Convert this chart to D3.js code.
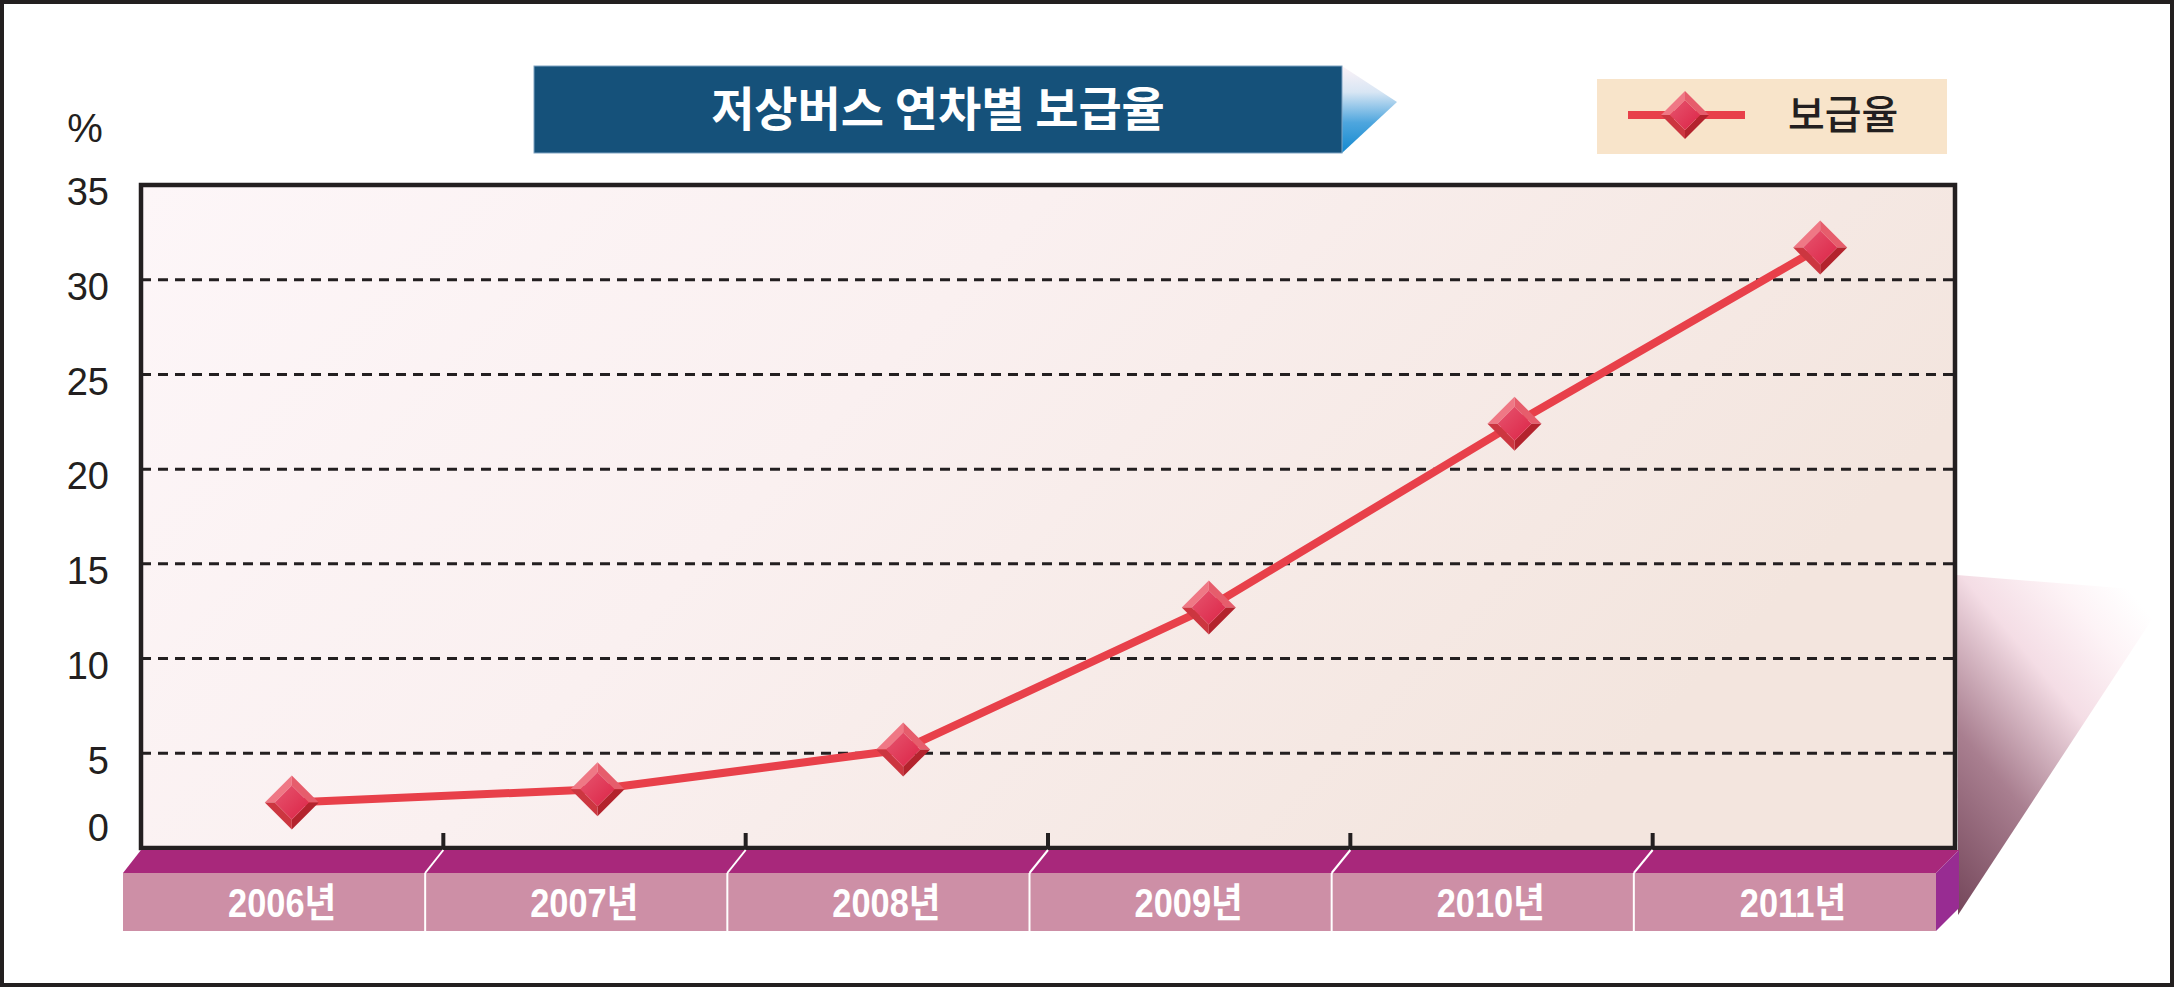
<!DOCTYPE html>
<html>
<head>
<meta charset="utf-8">
<script src="https://cdn.jsdelivr.net/npm/d3@7"></script>
<style>
  html, body { margin: 0; padding: 0; background: #fff; }
  svg { display: block; }
</style>
</head>
<body>
<svg id="chart" width="2174" height="987"></svg>
<script>
// ---- data ----
const years = ["2006년", "2007년", "2008년", "2009년", "2010년", "2011년"];
const rates = [2.4, 3.1, 5.2, 12.7, 22.4, 31.7];
const yTicks = [0, 5, 10, 15, 20, 25, 30, 35];
const gridTicks = [5, 10, 15, 20, 25, 30];
const titleText = "저상버스 연차별 보급율";
const seriesName = "보급율";
const unitLabel = "%";

// ---- layout ----
const W = 2174, H = 987;
const plot = { left: 141, right: 1955, top: 185, bottom: 848 };
const base = { left: 123, right: 1936, top: 850, mid: 873, bottom: 931 };

const svg = d3.select("#chart");
const defs = svg.append("defs");

function linGrad(id, x1, y1, x2, y2, stops) {
  const g = defs.append("linearGradient").attr("id", id)
    .attr("x1", x1).attr("y1", y1).attr("x2", x2).attr("y2", y2);
  stops.forEach(s => g.append("stop").attr("offset", s[0]).attr("stop-color", s[1]));
}
linGrad("plotGrad", 0, 0, 1, 0.35, [[0, "#fdf6f8"], [0.45, "#faf0f0"], [1, "#f3e5de"]]);
linGrad("shadowGrad", 0, 1, 0.75, 0, [[0, "#74465a"], [0.35, "#a97f90"], [0.65, "#f4dde5"], [0.85, "#fdf3f6"], [1, "#ffffff"]]);
linGrad("arrowGrad", 0, 1, 0, 0, [[0, "#1489cf"], [0.35, "#4ea6de"], [0.7, "#d8e6f4"], [1, "#fdf3f7"]]);
linGrad("faceGrad", 0, 0, 1, 1, [[0, "#e6556e"], [1, "#dc2447"]]);

svg.append("rect").attr("width", W).attr("height", H).attr("fill", "#fff");

// scales
const y = d3.scaleLinear().domain([0, 35]).range([plot.bottom, plot.top]);
const x = d3.scaleBand().domain(years).range([plot.left, plot.right]);
const xFront = d3.scaleBand().domain(years).range([base.left, base.right]);
const xPts = d3.scaleBand().domain(years).range([139, 1973]);

// right-side shadow
svg.append("polygon")
  .attr("points", [[1957, 575], [2170, 592], [1958, 915]].map(p => p.join(",")).join(" "))
  .attr("fill", "url(#shadowGrad)");

// plot area
svg.append("rect")
  .attr("x", plot.left).attr("y", plot.top)
  .attr("width", plot.right - plot.left).attr("height", plot.bottom - plot.top)
  .attr("fill", "url(#plotGrad)");

// gridlines
svg.append("g").selectAll("line").data(gridTicks).join("line")
  .attr("x1", plot.left).attr("x2", plot.right)
  .attr("y1", d => y(d)).attr("y2", d => y(d))
  .attr("stroke", "#231f20").attr("stroke-width", 3)
  .attr("stroke-dasharray", "10,7");

// x ticks at band boundaries (upward)
const boundaries = years.slice(1);
svg.append("g").selectAll("line").data(boundaries).join("line")
  .attr("x1", d => x(d)).attr("x2", d => x(d))
  .attr("y1", plot.bottom).attr("y2", plot.bottom - 15)
  .attr("stroke", "#231f20").attr("stroke-width", 4);

// plot border
svg.append("rect")
  .attr("x", plot.left).attr("y", plot.top)
  .attr("width", plot.right - plot.left).attr("height", plot.bottom - plot.top)
  .attr("fill", "none").attr("stroke", "#231f20").attr("stroke-width", 4.5);

// y axis labels
const yAxis = d3.axisLeft(y).tickValues(yTicks).tickSize(0).tickPadding(32);
const yg = svg.append("g").attr("transform", `translate(${plot.left},0)`).call(yAxis);
yg.select(".domain").remove();
yg.selectAll("text")
  .attr("font-family", "'Liberation Sans', Arial, sans-serif")
  .attr("font-size", 38).attr("fill", "#231f20")
  .attr("dy", d => d === 0 ? "-0.2em" : "0.52em");

// unit label
svg.append("text").attr("x", 85).attr("y", 128).attr("dy", "0.36em")
  .attr("text-anchor", "middle")
  .attr("font-family", "'Liberation Sans', Arial, sans-serif")
  .attr("font-size", 40).attr("fill", "#231f20").text(unitLabel);

// base bar (3D category strip)
svg.append("polygon")
  .attr("points", [[base.left, base.mid], [plot.left, base.top], [1959, base.top], [base.right, base.mid]].map(p => p.join(",")).join(" "))
  .attr("fill", "#a8287b");
svg.append("rect")
  .attr("x", base.left).attr("y", base.mid)
  .attr("width", base.right - base.left).attr("height", base.bottom - base.mid)
  .attr("fill", "#cd8fa6");
svg.append("polygon")
  .attr("points", [[base.right, base.mid], [1959, base.top], [1959, 908], [base.right, base.bottom]].map(p => p.join(",")).join(" "))
  .attr("fill", "#982c92");
const divG = svg.append("g").attr("stroke", "#ffffff").attr("stroke-width", 2).attr("fill", "none");
divG.selectAll("line.v").data(boundaries).join("line").attr("class", "v")
  .attr("x1", d => xFront(d)).attr("x2", d => xFront(d))
  .attr("y1", base.mid).attr("y2", base.bottom);
divG.selectAll("line.s").data(boundaries).join("line").attr("class", "s")
  .attr("x1", d => xFront(d)).attr("x2", d => x(d))
  .attr("y1", base.mid).attr("y2", base.top);
svg.append("g").selectAll("text").data(years).join("text")
  .attr("transform", d => `translate(${xFront(d) + xFront.bandwidth() / 2 + 8},903) scale(0.86,1)`)
  .attr("text-anchor", "middle").attr("dy", "0.36em")
  .attr("font-family", "'Liberation Sans', 'Noto Sans CJK KR', sans-serif")
  .attr("font-weight", "bold")
  .attr("font-size", 40).attr("fill", "#ffffff")
  .text(d => d);

// line
const pts = years.map((yr, i) => [xPts(yr) + xPts.bandwidth() / 2, y(rates[i])]);
svg.append("path").datum(pts)
  .attr("d", d3.line())
  .attr("fill", "none").attr("stroke", "#e8404a").attr("stroke-width", 8)
  .attr("stroke-linejoin", "round");

// beveled diamond marker
function diamond(g, r, ri) {
  const P = (a) => a.map(p => p.join(",")).join(" ");
  g.append("polygon").attr("points", P([[-r, 0], [0, -r], [0, -ri], [-ri, 0]])).attr("fill", "#ef7885");
  g.append("polygon").attr("points", P([[0, -r], [r, 0], [ri, 0], [0, -ri]])).attr("fill", "#e65d6c");
  g.append("polygon").attr("points", P([[r, 0], [0, r], [0, ri], [ri, 0]])).attr("fill", "#b3232d");
  g.append("polygon").attr("points", P([[0, r], [-r, 0], [-ri, 0], [0, ri]])).attr("fill", "#cc3640");
  g.append("polygon").attr("points", P([[-ri, 0], [0, -ri], [ri, 0], [0, ri]])).attr("fill", "url(#faceGrad)");
}
svg.append("g").selectAll("g").data(pts).join("g")
  .attr("transform", d => `translate(${d[0]},${d[1]})`)
  .each(function () { diamond(d3.select(this), 27, 17); });

// title box
svg.append("polygon")
  .attr("points", [[1342, 66], [1397, 102], [1342, 153]].map(p => p.join(",")).join(" "))
  .attr("fill", "url(#arrowGrad)");
svg.append("rect").attr("x", 534).attr("y", 66).attr("width", 808).attr("height", 87)
  .attr("fill", "#15517a").attr("stroke", "#7fa3c2").attr("stroke-width", 1);
svg.append("text").attr("x", 938).attr("y", 109).attr("dy", "0.36em")
  .attr("text-anchor", "middle")
  .attr("font-family", "'Noto Sans CJK KR', sans-serif").attr("font-weight", "bold")
  .attr("font-size", 47).attr("fill", "#ffffff").text(titleText);

// legend
svg.append("rect").attr("x", 1597).attr("y", 79).attr("width", 350).attr("height", 75).attr("fill", "#f8e4ca");
svg.append("line").attr("x1", 1628).attr("x2", 1745).attr("y1", 115).attr("y2", 115)
  .attr("stroke", "#e8404a").attr("stroke-width", 8);
diamond(svg.append("g").attr("transform", "translate(1685,115)"), 24, 15);
svg.append("text").attr("x", 1788).attr("y", 115).attr("dy", "0.36em")
  .attr("font-family", "'Noto Sans CJK KR', sans-serif").attr("font-weight", 500)
  .attr("font-size", 40).attr("fill", "#231f20").text(seriesName);

// outer frame
svg.append("rect").attr("x", 2).attr("y", 2).attr("width", W - 4).attr("height", H - 4)
  .attr("fill", "none").attr("stroke", "#231f20").attr("stroke-width", 4);
</script>
</body>
</html>
